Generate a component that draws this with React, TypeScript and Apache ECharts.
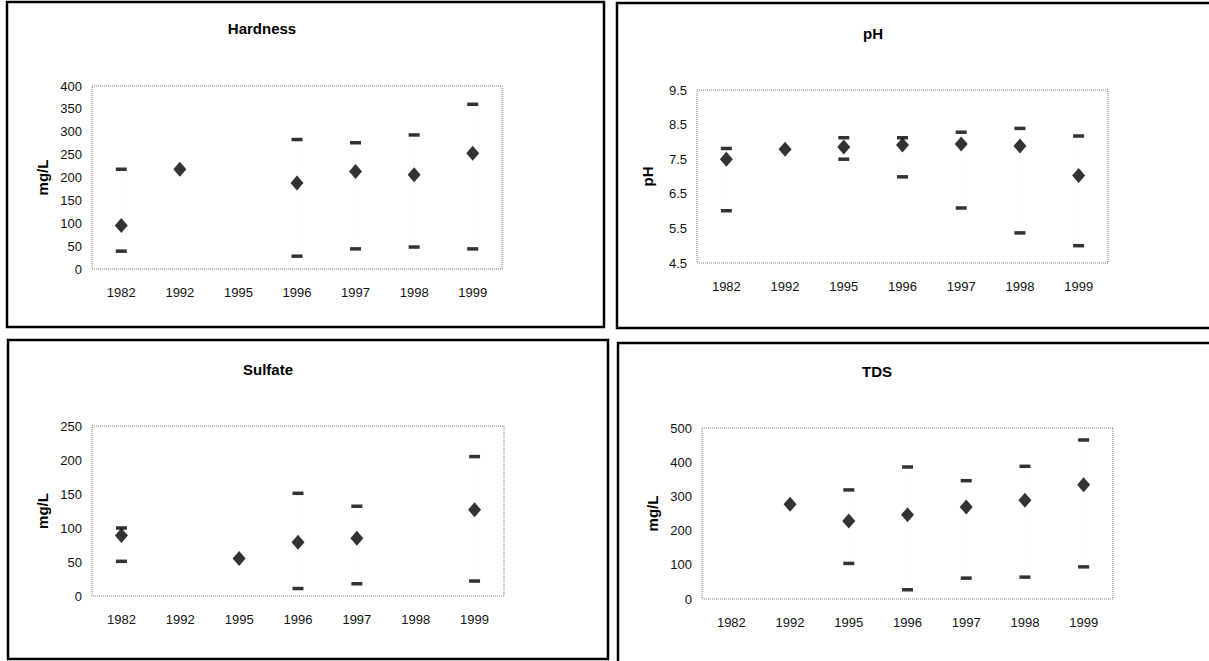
import React, { useEffect, useRef } from 'react';
import * as echarts from 'echarts';

const years = ['1982', '1992', '1995', '1996', '1997', '1998', '1999'];

const hardnessMean = [95, 218, null, 188, 213, 206, 253];
const hardnessMax = [218, null, null, 283, 276, 293, 360];
const hardnessMin = [39, null, null, 28, 44, 48, 44];

const phMean = [7.5, 7.79, 7.85, 7.91, 7.94, 7.88, 7.03];
const phMax = [7.81, null, 8.12, 8.12, 8.28, 8.39, 8.17];
const phMin = [6.01, null, 7.5, 6.99, 6.09, 5.37, 5.0];

const sulfateMean = [89, null, 55, 79, 85, null, 127];
const sulfateMax = [100, null, null, 151, 132, null, 205];
const sulfateMin = [51, null, null, 11, 18, null, 22];

const tdsMean = [null, 277, 228, 246, 269, 289, 334];
const tdsMax = [null, null, 319, 386, 346, 388, 465];
const tdsMin = [null, null, 104, 27, 61, 64, 94];

const FONT = '"Liberation Sans", Arial, sans-serif';

const panels = [
  {
    title: 'Hardness', yName: 'mg/L', mean: hardnessMean, max: hardnessMax, min: hardnessMin,
    yMin: 0, yMax: 400, yInt: 50, labelStep: 50, decimals: 0,
    grid: { left: 92, top: 86, width: 410, height: 183 }, titleX: 257, titleY: 16,
    box: [7, 2, 597, 325],
  },
  {
    title: 'pH', yName: 'pH', mean: phMean, max: phMax, min: phMin,
    yMin: 4.5, yMax: 9.5, yInt: 0.5, labelStep: 1, decimals: 1,
    grid: { left: 697, top: 90, width: 411, height: 173 }, titleX: 868, titleY: 21,
    box: [617, 3, 600, 325],
  },
  {
    title: 'Sulfate', yName: 'mg/L', mean: sulfateMean, max: sulfateMax, min: sulfateMin,
    yMin: 0, yMax: 250, yInt: 50, labelStep: 50, decimals: 0,
    grid: { left: 92, top: 426, width: 412, height: 170 }, titleX: 263, titleY: 357,
    box: [8, 340, 600, 319],
  },
  {
    title: 'TDS', yName: 'mg/L', mean: tdsMean, max: tdsMax, min: tdsMin,
    yMin: 0, yMax: 500, yInt: 100, labelStep: 100, decimals: 0,
    grid: { left: 702, top: 428, width: 411, height: 171 }, titleX: 872, titleY: 359,
    box: [618, 343, 600, 330],
  },
];

const toData = (arr: (number | null)[]) => arr.map((v) => (v == null ? '-' : v));

export default function App() {
  const ref = useRef<HTMLDivElement>(null);
  useEffect(() => {
    const chart = echarts.init(ref.current!, null, { renderer: 'svg' });
    const grids: any[] = [];
    const xAxes: any[] = [];
    const yAxes: any[] = [];
    const series: any[] = [];
    const titles: any[] = [];
    const graphics: any[] = [];

    panels.forEach((p, i) => {
      grids.push({ ...p.grid, show: false });
      titles.push({
        text: p.title, left: p.titleX, top: p.titleY, textAlign: 'center',
        textStyle: { fontFamily: FONT, fontSize: 15, fontWeight: 'bold', color: '#000' },
      });
      xAxes.push({
        type: 'category', gridIndex: i, data: years, boundaryGap: true,
        axisLine: { show: false }, axisTick: { show: false }, splitLine: { show: false },
        axisLabel: { fontFamily: FONT, fontSize: 13, color: '#111', margin: 17, interval: 0 },
      });
      yAxes.push({
        type: 'value', gridIndex: i, min: p.yMin, max: p.yMax, interval: p.yInt,
        name: p.yName, nameLocation: 'middle', nameRotate: 90, nameGap: 42,
        nameTextStyle: { fontFamily: FONT, fontSize: 15, fontWeight: 'bold', color: '#000' },
        axisLine: { show: false }, axisTick: { show: false }, splitLine: { show: false },
        axisLabel: {
          fontFamily: FONT, fontSize: 13, color: '#111', margin: 10,
          formatter: (v: number) => {
            const k = (v - p.yMin) / p.labelStep;
            return Math.abs(k - Math.round(k)) < 1e-6 ? v.toFixed(p.decimals) : '';
          },
        },
      });
      // faint min-max connector
      series.push({
        type: 'custom', xAxisIndex: i, yAxisIndex: i, silent: true, z: 1,
        data: years.map((_, j) => [j, p.min[j], p.max[j]]).filter((d) => d[1] != null && d[2] != null),
        renderItem: (params: any, api: any) => {
          const a = api.coord([api.value(0), api.value(1)]);
          const b = api.coord([api.value(0), api.value(2)]);
          return {
            type: 'line',
            shape: { x1: a[0], y1: a[1], x2: b[0], y2: b[1] },
            style: { stroke: '#efefef', lineWidth: 1, lineDash: [1, 4] },
          };
        },
      });
      const dash = {
        type: 'scatter', xAxisIndex: i, yAxisIndex: i, symbol: 'rect', symbolSize: [11, 3.5],
        itemStyle: { color: '#000' }, silent: true, z: 2,
      };
      series.push({ ...dash, name: p.title + ' max', data: toData(p.max) });
      series.push({ ...dash, name: p.title + ' min', data: toData(p.min) });
      series.push({
        type: 'scatter', xAxisIndex: i, yAxisIndex: i, name: p.title + ' mean',
        symbol: 'diamond', symbolSize: [13, 15], itemStyle: { color: '#000' }, z: 3,
        data: toData(p.mean),
      });
      // plot area dotted border
      graphics.push({
        type: 'rect', silent: true, z: 0,
        shape: { x: p.grid.left, y: p.grid.top, width: p.grid.width, height: p.grid.height },
        style: { fill: 'none', stroke: '#777', lineWidth: 1, lineDash: [1, 1] },
      });
      // panel frame
      graphics.push({
        type: 'rect', silent: true, z: 0,
        shape: { x: p.box[0], y: p.box[1], width: p.box[2], height: p.box[3] },
        style: { fill: 'none', stroke: '#000', lineWidth: 2.5 },
      });
    });

    chart.setOption({
      animation: false,
      backgroundColor: '#fff',
      title: titles,
      grid: grids,
      xAxis: xAxes,
      yAxis: yAxes,
      series,
      graphic: graphics,
    });
    return () => chart.dispose();
  }, []);
  return (
    <div
      ref={ref}
      style={{ position: 'absolute', left: 0, top: 0, width: 1209, height: 661, background: '#fff' }}
    />
  );
}
